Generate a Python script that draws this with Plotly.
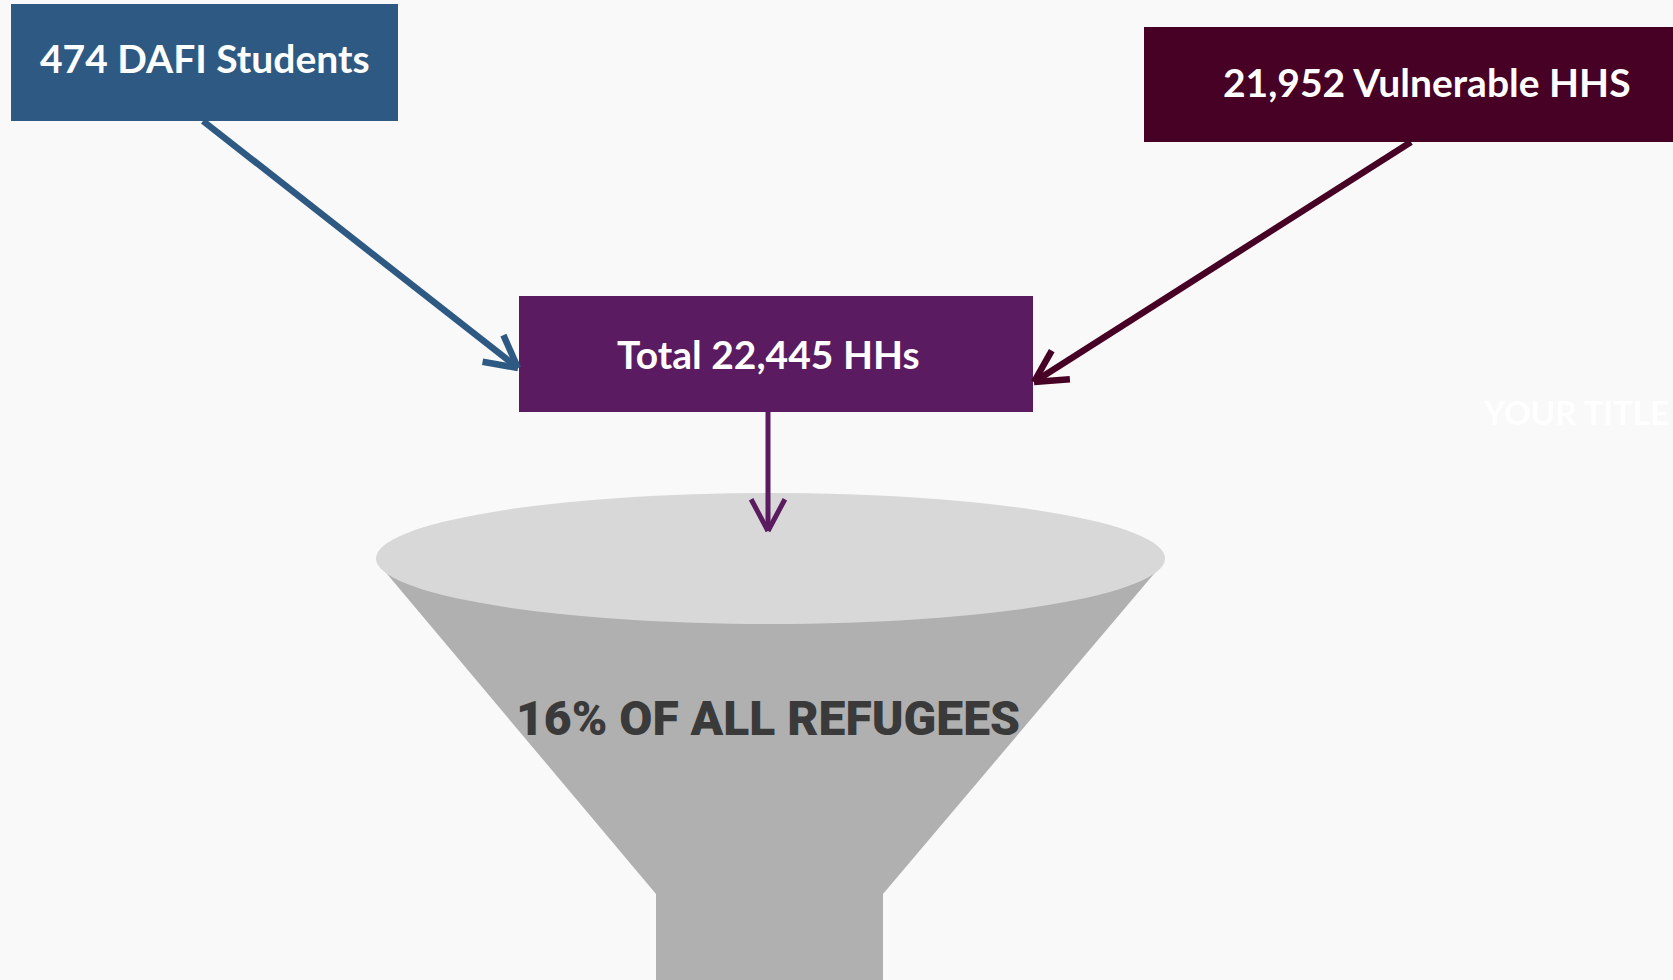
import math
import plotly.graph_objects as go

# ---- data ----
box_labels = ["474 DAFI Students", "21,952 Vulnerable HHS", "Total 22,445 HHs"]
funnel_label = "16% OF ALL REFUGEES"
ghost_title = "YOUR TITLE"

# ---- layout constants (pixel canvas) ----
W, H = 1673, 980
BG = "#f9f9f9"
box_colors = ["#2e5983", "#460125", "#5a1b60"]
box_rects = [(11, 4, 398, 121), (1144, 27, 1700, 142), (519, 296, 1033, 412)]
text_pos = [(205, 58), (1427, 82), (768, 354)]

fig = go.Figure()
shapes = []
annotations = []

# funnel
cone_color = "#b0b0b0"
shapes.append(dict(type="path",
                   path="M 377 562 L 1164 562 L 883 894 L 883 990 L 656 990 L 656 894 Z",
                   fillcolor=cone_color, line=dict(width=0), layer="below"))
shapes.append(dict(type="circle", x0=376, x1=1165, y0=493, y1=624,
                   fillcolor="#d8d8d8", line=dict(width=0), layer="below"))

# boxes
for (x0, y0, x1, y1), c in zip(box_rects, box_colors):
    shapes.append(dict(type="rect", x0=x0, y0=y0, x1=x1, y1=y1,
                       fillcolor=c, line=dict(width=0), layer="below"))


def arrow(x0, y0, x1, y1, color, width=6, head=36, ang=28):
    out = [dict(type="line", x0=x0, y0=y0, x1=x1, y1=y1,
                line=dict(color=color, width=width))]
    d = math.atan2(y0 - y1, x0 - x1)
    for s in (-1, 1):
        a = d + s * math.radians(ang)
        out.append(dict(type="line", x0=x1, y0=y1,
                        x1=x1 + head * math.cos(a), y1=y1 + head * math.sin(a),
                        line=dict(color=color, width=width)))
    return out


shapes += arrow(203, 121, 518, 368, box_colors[0], width=6.5)
shapes += arrow(1411, 142, 1034, 382, box_colors[1], width=6.5)
shapes += arrow(768, 412, 768, 531, box_colors[2], width=5)

for (tx, ty), lab in zip(text_pos, box_labels):
    annotations.append(dict(x=tx, y=ty, text=lab, showarrow=False,
                            xanchor="center", yanchor="middle",
                            font=dict(family="Lato", size=39, color="white", weight="bold")))

annotations.append(dict(x=768, y=718, text=funnel_label, showarrow=False,
                        xanchor="center", yanchor="middle",
                        font=dict(family="Roboto", size=48, color="#3a3a3a", weight=900)))
annotations.append(dict(x=1671, y=412, text=ghost_title, showarrow=False,
                        xanchor="right", yanchor="middle",
                        font=dict(family="Lato", size=33, color="#ffffff", weight="bold")))

fig.update_layout(
    width=W, height=H,
    margin=dict(l=0, r=0, t=0, b=0),
    paper_bgcolor=BG, plot_bgcolor=BG,
    xaxis=dict(range=[0, W], visible=False, fixedrange=True),
    yaxis=dict(range=[H, 0], visible=False, fixedrange=True),
    shapes=shapes, annotations=annotations, showlegend=False,
)
fig.write_html("out.html",
               config={"displayModeBar": False},
               post_script="document.body.style.margin='0';document.body.style.overflow='hidden';")
